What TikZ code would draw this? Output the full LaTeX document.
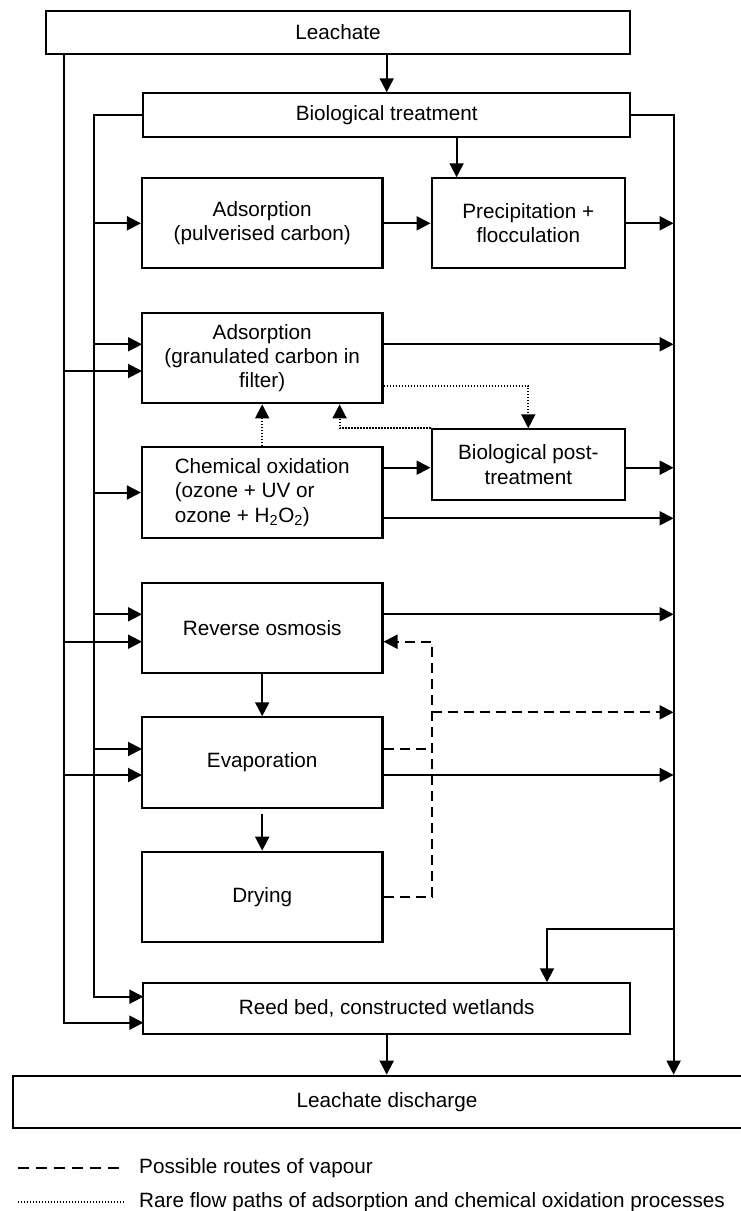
\documentclass[tikz,border=0pt]{standalone}
\usepackage{fontspec}
\setmainfont{Liberation Sans}
\usetikzlibrary{arrows.meta}
\newcommand{\myfs}{\fontsize{20.7}{24.3}\selectfont}
\begin{document}
\begin{tikzpicture}[x=1pt,y=-1pt,
  box/.style={draw, line width=2.1pt, inner sep=0pt, align=center, font=\myfs},
  flow/.style={line width=2pt},
  tip/.style={-{Triangle[length=14pt,width=14pt]}},
  arr/.style={flow, tip},
  vap/.style={line width=2pt, dash pattern=on 10pt off 6pt},
  rare/.style={line width=1.8pt, dash pattern=on 1.5pt off 1.5pt},
  legtext/.style={anchor=west, inner sep=0pt, font=\myfs}]
\useasboundingbox (0,0) rectangle (740,1211);

% boxes
\node[box, minimum width=584pt, minimum height=43.3pt] (leach) at (338,32.3) {Leachate};
\node[box, minimum width=486.6pt, minimum height=43.4pt] (bio) at (386.7,115) {Biological treatment};
\node[box, minimum width=240.5pt, minimum height=90pt] (adsp) at (262.2,223.3) {Adsorption\\(pulverised carbon)};
\node[box, minimum width=193.4pt, minimum height=90pt] (precip) at (528.3,223.3) {Precipitation +\\flocculation};
\node[box, minimum width=240.5pt, minimum height=90.6pt] (adsg) at (262.2,358) {Adsorption\\(granulated carbon in\\filter)};
\node[box, minimum width=240.5pt, minimum height=90.4pt, align=left] (chem) at (262.2,492.5) {Chemical oxidation\\(ozone + UV or\\ozone + H\textsubscript{2}O\textsubscript{2})};
\node[box, minimum width=193.4pt, minimum height=70.7pt] (biopost) at (528.3,464.7) {Biological post-\\treatment};
\node[box, minimum width=240.5pt, minimum height=90pt] (ro) at (262.2,627.7) {Reverse osmosis};
\node[box, minimum width=240.5pt, minimum height=90.4pt] (evap) at (262.2,762.5) {Evaporation};
\node[box, minimum width=240.5pt, minimum height=90.6pt] (dry) at (262.2,897) {Drying};
\node[box, minimum width=486.6pt, minimum height=51pt] (reed) at (386.7,1008.8) {Reed bed, constructed wetlands};
\node[box, minimum width=740pt, minimum height=52pt] (disch) at (382.7,1101.7) {};
\node[inner sep=0pt, font=\myfs] (dischtext) at (387,1101.7) {Leachate discharge};

% helper coordinates
\coordinate (xo) at (64,0);
\coordinate (xi) at (94.3,0);
\coordinate (xr) at (673.6,0);
\coordinate (xd) at (431.6,0);
\coordinate (xp) at (456.6,0);
\coordinate (xb) at (547,0);
\coordinate (xq) at (339.6,0);
\coordinate (g1) at (142,344.3);
\coordinate (g2) at (142,371);
\coordinate (c1) at (0,467.7);
\coordinate (c2) at (0,518.3);
\coordinate (r1) at (142,614.3);
\coordinate (r2) at (142,641.7);
\coordinate (e1) at (142,749);
\coordinate (e2) at (142,775);
\coordinate (v1) at (0,712.3);
\coordinate (dy) at (0,896.7);
\coordinate (dt1) at (0,385.7);
\coordinate (br) at (673.6,929.3);
\coordinate (reedA) at (143.4,996.7);
\coordinate (reedB) at (143.4,1022.7);

% trunks
\draw[arr] (leach.south -| xo) |- (reedB);
\draw[arr] (bio.west) -| (xi |- reedA) -- (reedA);
\draw[arr] (bio.east) -| (xr |- disch.north);
\draw[arr] (br) -| (xb |- reed.north);

% main vertical flow
\draw[arr] (leach.south -| bio.north) -- (bio.north);
\draw[arr] (bio.south -| xp) -- (xp |- precip.north);
\draw[arr] (ro.south) -- (evap.north);
\draw[arr] ([yshift=-5pt]evap.south) -- (dry.north);
\draw[arr] (reed.south) -- (reed.south |- disch.north);

% inputs from left trunks
\draw[arr] (xi |- adsp.west) -- (adsp.west);
\draw[arr] (xi |- g1) -- (g1);
\draw[arr] (xo |- g2) -- (g2);
\draw[arr] (xi |- chem.west) -- (chem.west);
\draw[arr] (xi |- r1) -- (r1);
\draw[arr] (xo |- r2) -- (r2);
\draw[arr] (xi |- e1) -- (e1);
\draw[arr] (xo |- e2) -- (e2);

% outputs to right trunk
\draw[arr] (adsp.east) -- (precip.west);
\draw[arr] (precip.east) -- (xr |- precip.east);
\draw[arr] (adsg.east |- g1) -- (xr |- g1);
\draw[arr] (chem.east |- c1) -- (biopost.west |- c1);
\draw[arr] (biopost.east |- c1) -- (xr |- c1);
\draw[arr] (chem.east |- c2) -- (xr |- c2);
\draw[arr] (ro.east |- r1) -- (xr |- r1);
\draw[arr] (evap.east |- e2) -- (xr |- e2);

% vapour routes
\draw[vap, tip] (dry.east |- dy) -| (xd |- r2) -- (ro.east |- r2);
\draw[vap] (evap.east |- e1) -- (xd |- e1);
\draw[vap, tip] (xd |- v1) -- (xr |- v1);

% rare flow paths
\draw[rare, tip] (adsg.east |- dt1) -| (biopost.north);
\draw[rare, tip] (biopost.north west) -| (xq |- adsg.south);
\draw[rare, tip] (chem.north) -- (adsg.south);

% legend
\coordinate (l1a) at (17.5,1168.3);
\coordinate (l1b) at (125,1168.3);
\coordinate (l2a) at (17.5,1201.7);
\coordinate (l2b) at (125,1201.7);
\draw[vap, dash pattern=on 11pt off 7pt] (l1a) -- (l1b);
\draw[rare] (l2a) -- (l2b);
\node[legtext] (leg1) at (139,1168.3) {Possible routes of vapour};
\node[legtext] (leg2) at (139,1201.7) {Rare flow paths of adsorption and chemical oxidation processes};
\end{tikzpicture}
\end{document}
